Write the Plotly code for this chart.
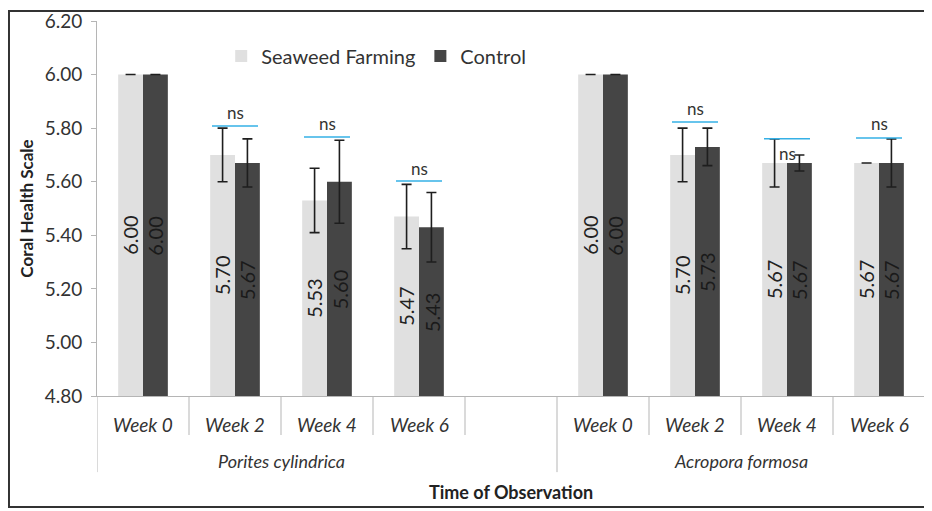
import plotly.graph_objects as go

# ---------------- data ----------------
week_labels = ["Week 0", "Week 2", "Week 4", "Week 6", "", "Week 0", "Week 2", "Week 4", "Week 6"]
species_labels = ["Porites cylindrica", "Acropora formosa"]
species_members = [[0, 1, 2, 3], [5, 6, 7, 8]]

seaweed = [6.00, 5.70, 5.53, 5.47, None, 6.00, 5.70, 5.67, 5.67]
control = [6.00, 5.67, 5.60, 5.43, None, 6.00, 5.73, 5.67, 5.67]
seaweed_err = [0.0, 0.10, 0.12, 0.12, None, 0.0, 0.10, 0.09, 0.0]
control_err = [0.0, 0.09, 0.155, 0.13, None, 0.0, 0.07, 0.03, 0.09]

ns_idx = [1, 2, 3, 6, 7, 8]
ns_line_y = [5.808, 5.767, 5.603, 5.823, 5.760, 5.763]
ns_text_y = [5.857, 5.819, 5.651, 5.875, 5.707, 5.819]

y_ticks = [4.80, 5.00, 5.20, 5.40, 5.60, 5.80, 6.00, 6.20]

FONT = "Lato, 'Open Sans', sans-serif"
BARGAP = 0.46
x = list(range(len(week_labels)))
y_min, y_max = y_ticks[0], y_ticks[-1]

fig = go.Figure()
fig.add_trace(go.Bar(
    name="Seaweed Farming", x=x, y=seaweed,
    marker=dict(color="#e0e0e0", line=dict(width=0)),
    error_y=dict(type="data", array=seaweed_err, color="#1e1e1e", thickness=1.6, width=5),
))
fig.add_trace(go.Bar(
    name="Control", x=x, y=control,
    marker=dict(color="#454545", line=dict(width=0)),
    error_y=dict(type="data", array=control_err, color="#1e1e1e", thickness=1.6, width=5),
))

shapes = []
annotations = []

# value labels, rotated, centred in the visible part of each bar
half = (1 - BARGAP) / 4
for vals, sign, col in [(seaweed, -1, "#222222"), (control, 1, "#1a1a1a")]:
    for i, v in zip(x, vals):
        if v is None:
            continue
        annotations.append(dict(xref="x", yref="y", x=i + sign * half, y=(v + y_min) / 2,
                                text=f"{v:.2f}", textangle=-90, showarrow=False,
                                xanchor="center", yanchor="middle",
                                font=dict(family=FONT, size=20, color=col)))

# significance lines and "ns"
for i, ly, ty in zip(ns_idx, ns_line_y, ns_text_y):
    shapes.append(dict(type="line", xref="x", yref="y", x0=i - 0.25, x1=i + 0.25, y0=ly, y1=ly,
                       line=dict(color="#35b0e6", width=1.5)))
    annotations.append(dict(xref="x", yref="y", x=i, y=ty, text="ns", showarrow=False,
                            font=dict(family=FONT, size=17, color="#333333"), yanchor="middle"))

# x-axis category dividers
n = len(week_labels)
long_bounds = {-0.5, 4.5, n - 0.5}
for k in range(n + 1):
    b = k - 0.5
    y0 = -0.203 if b in long_bounds else -0.104
    shapes.append(dict(type="line", xref="x", yref="paper", x0=b, x1=b, y0=0, y1=y0,
                       line=dict(color="#b5b5b5", width=1)))

# week labels
for i, lab in zip(x, week_labels):
    if lab:
        annotations.append(dict(xref="x", yref="paper", x=i, y=-0.075, text=f"<i>{lab}</i>",
                                showarrow=False, yanchor="middle",
                                font=dict(family=FONT, size=19, color="#333333")))

# species labels
for lab, mem in zip(species_labels, species_members):
    annotations.append(dict(xref="x", yref="paper", x=sum(mem) / len(mem), y=-0.173,
                            text=f"<i>{lab}</i>", showarrow=False, yanchor="middle",
                            font=dict(family=FONT, size=18, color="#333333")))

# x axis title
annotations.append(dict(xref="paper", yref="paper", x=0.5, y=-0.256, text="<b>Time of Observation</b>",
                        showarrow=False, yanchor="middle", font=dict(family=FONT, size=18, color="#222222")))

# outer border
shapes.append(dict(type="rect", xref="paper", yref="paper", x0=-0.1063, x1=1.0072, y0=-0.296, y1=1.0267,
                   line=dict(color="#333333", width=2)))

# the page body adds an 8px offset; margins compensate so the plot area lands where the reference has it
fig.update_layout(
    width=932, height=511,
    margin=dict(l=89, r=15, t=13, b=123, autoexpand=False),
    paper_bgcolor="white", plot_bgcolor="white",
    barmode="group", bargap=BARGAP, bargroupgap=0.0,
    font=dict(family=FONT, color="#333333"),
    showlegend=True,
    legend=dict(orientation="h", x=0.15, y=0.907, xanchor="left", yanchor="middle",
                font=dict(family=FONT, size=20, color="#333333"), bgcolor="rgba(0,0,0,0)",
                itemclick=False),
    xaxis=dict(range=[-0.5, n - 0.5], showticklabels=False,
               ticks="", showline=True, linecolor="#b5b5b5", linewidth=1, showgrid=False,
               zeroline=False, automargin=False, fixedrange=True),
    yaxis=dict(range=[y_min, y_max], tickmode="array", tickvals=y_ticks,
               ticktext=[f"{v:.2f}" for v in y_ticks], ticks="outside", ticklen=5,
               tickcolor="#b5b5b5", showline=True, linecolor="#b5b5b5", linewidth=1,
               showgrid=False, zeroline=False, automargin=False, ticklabelstandoff=5,
               tickfont=dict(family=FONT, size=19, color="#333333"),
               title=dict(text="<b>Coral Health Scale</b>", standoff=6,
                          font=dict(family=FONT, size=17, color="#222222")),
               fixedrange=True),
    shapes=shapes, annotations=annotations,
)

fig.write_html("out.html")
